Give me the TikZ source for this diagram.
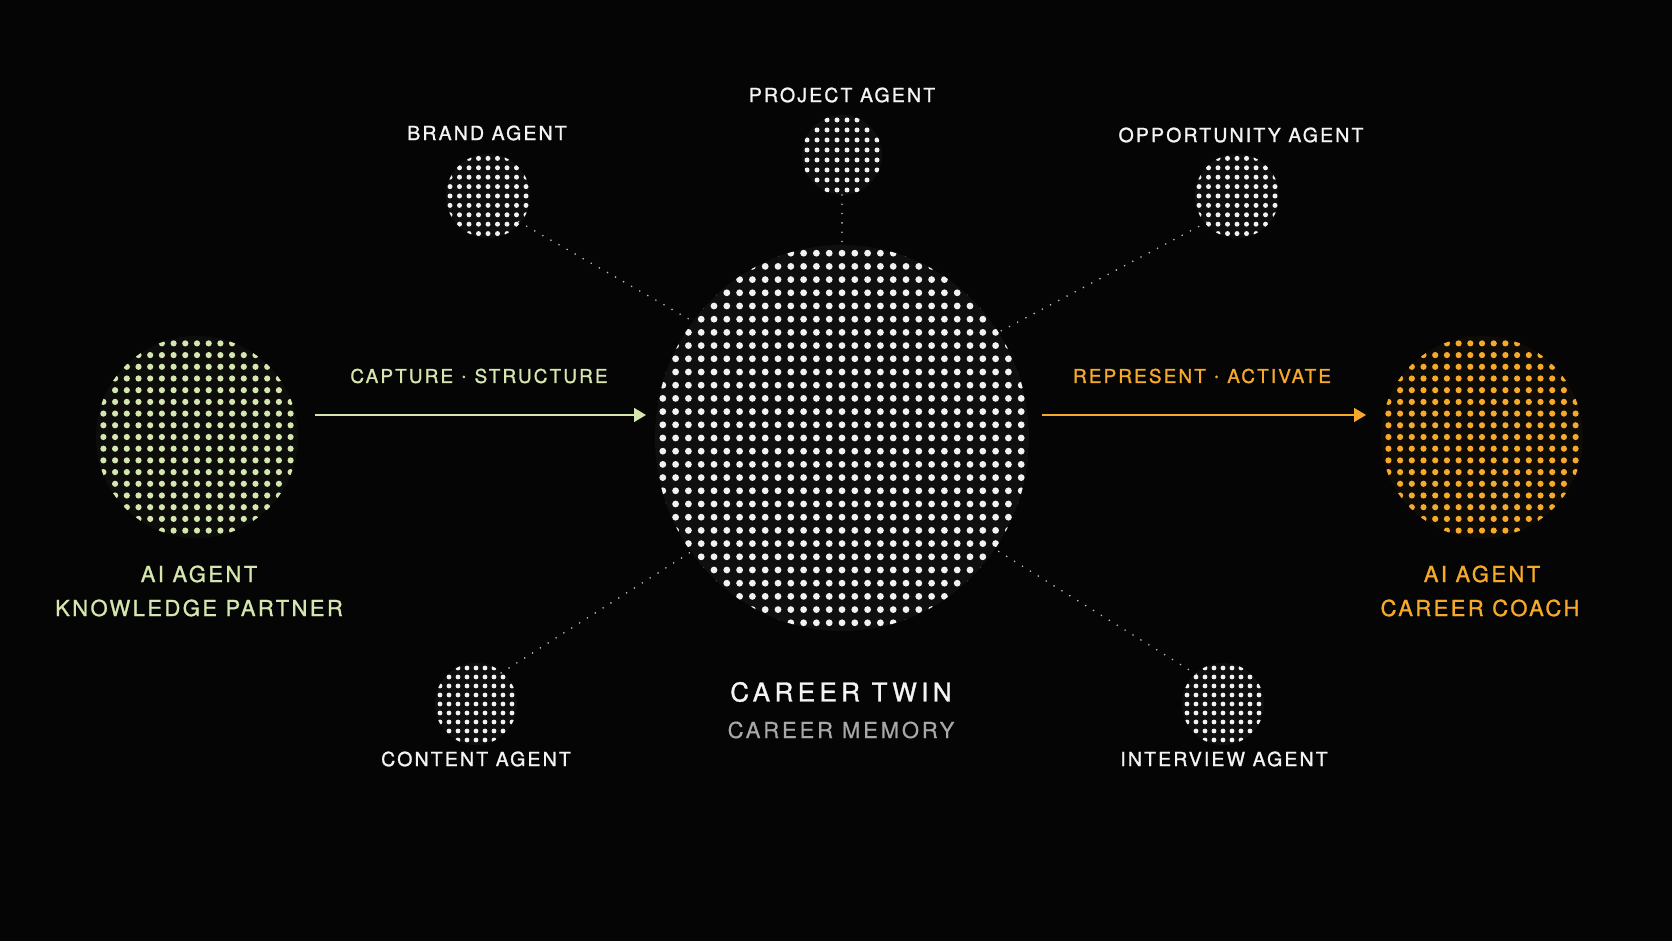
\documentclass[tikz,border=0pt]{standalone}
\usepackage{fontspec}
\setmainfont{TeX Gyre Heros}
\newfontfamily\labfont{TeX Gyre Heros}[LetterSpace=11, FakeBold=1.2]
\newfontfamily\bigfont{TeX Gyre Heros}[LetterSpace=11, FakeBold=1.2]
\newfontfamily\titlefont{TeX Gyre Heros}[LetterSpace=17, FakeBold=1.2]
\newfontfamily\subfont{TeX Gyre Heros}[LetterSpace=13, FakeBold=0.6]
\usetikzlibrary{arrows.meta}
\definecolor{bg}{HTML}{050505}
\definecolor{txtwhite}{HTML}{F4F4F4}
\definecolor{dotwhite}{HTML}{F2F2F2}
\definecolor{memgray}{HTML}{A8A8A8}
\definecolor{linkgray}{HTML}{BDBDBD}
\definecolor{kpgreen}{HTML}{D5E6AE}
\definecolor{ccorange}{HTML}{F7A929}
% cx, cy, rx, ry, n, sx, sy, dot radius, colour
\newcommand{\dotgrid}[9]{%
  \begin{scope}
    \clip (#1,#2) ellipse [x radius=#3, y radius=#4];
    \fill[#9!4!bg] (#1,#2) ellipse [x radius=#3, y radius=#4];
    \pgfmathsetmacro\halfn{(#5-1)/2}
    \foreach \i in {1,...,#5}{
      \foreach \j in {1,...,#5}{
        \fill[#9] ({#1+(\i-1-\halfn)*#6},{#2+(\j-1-\halfn)*#7}) circle[radius=#8];
      }
    }
  \end{scope}}
\begin{document}
\begin{tikzpicture}[x=1pt,y=1pt,
  disc/.style={circle, inner sep=0pt, outer sep=0pt, draw=none},
  agentlab/.style={text=txtwhite, inner sep=0pt, font=\labfont\fontsize{19.5}{23}\selectfont},
  sidelab/.style={inner sep=0pt, font=\bigfont\fontsize{22}{26}\selectfont},
  flowlab/.style={inner sep=0pt, font=\labfont\fontsize{19}{23}\selectfont},
  link/.style={draw=linkgray, line width=1.8pt, line cap=round, dash pattern=on 0pt off 9.3pt},
  flow/.style={line width=1.6pt, -{Triangle[length=12pt,width=14pt]}}
]
\fill[bg] (0,0) rectangle (1672,941);
\useasboundingbox (0,0) rectangle (1672,941);

% dot discs
\dotgrid{842}{503}{187}{193}{29}{12.8}{13.2}{3.4}{dotwhite}
\dotgrid{197}{504}{101}{101}{17}{11.7}{11.7}{3.1}{kpgreen}
\dotgrid{1482}{504}{101}{101}{17}{11.7}{11.7}{3.1}{ccorange}
\dotgrid{488}{745}{42}{42}{9}{9.5}{9.4}{2.5}{dotwhite}
\dotgrid{842}{786}{40}{40}{8}{10}{10}{2.5}{dotwhite}
\dotgrid{1237}{745}{42}{42}{9}{9.5}{9.4}{2.5}{dotwhite}
\dotgrid{476}{237}{41}{41}{9}{9}{9}{2.4}{dotwhite}
\dotgrid{1223}{237}{41}{41}{9}{9}{9}{2.4}{dotwhite}

% nodes for the discs
\node[disc, minimum size=380pt] (twin) at (842,503) {};
\node[disc, minimum size=202pt] (kp) at (197,504) {};
\node[disc, minimum size=202pt] (cc) at (1482,504) {};
\node[disc, minimum size=80pt] (brand) at (488,745) {};
\node[disc, minimum size=80pt] (project) at (842,786) {};
\node[disc, minimum size=80pt] (opp) at (1237,745) {};
\node[disc, minimum size=80pt] (content) at (476,237) {};
\node[disc, minimum size=80pt] (interview) at (1223,237) {};

% labels
\node[agentlab] (projectlab) at (842,846) {PROJECT AGENT};
\node[agentlab] (brandlab) at (487,808) {BRAND AGENT};
\node[agentlab] (opplab) at (1241,806) {OPPORTUNITY AGENT};
\node[agentlab] (contentlab) at (476,182) {CONTENT AGENT};
\node[agentlab] (interviewlab) at (1224,182) {INTERVIEW AGENT};
\node[inner sep=0pt, text=txtwhite, font=\titlefont\fontsize{26}{30}\selectfont] (twinlab) at (841,249) {CAREER TWIN};
\node[inner sep=0pt, text=memgray, font=\subfont\fontsize{22}{26}\selectfont] (memlab) at (841,211) {CAREER MEMORY};
\node[flowlab, text=kpgreen] (caplab) at (479,565) {CAPTURE {\fontsize{24}{23}\selectfont·} STRUCTURE};
\node[flowlab, text=ccorange] (replab) at (1202,565) {REPRESENT {\fontsize{24}{23}\selectfont·} ACTIVATE};
\node[sidelab, text=kpgreen] (kplab1) at (199,367) {AI AGENT};
\node[sidelab, text=kpgreen] (kplab2) at (199,333) {KNOWLEDGE PARTNER};
\node[sidelab, text=ccorange] (cclab1) at (1482,367) {AI AGENT};
\node[sidelab, text=ccorange] (cclab2) at (1480,333) {CAREER COACH};

% dotted links
\draw[link] (brand.-40) -- (twin.142);
\draw[link] (project.south) -- (twin.north);
\draw[link] (opp.221) -- (twin.34);
\draw[link] (content.51) -- (twin.217);
\draw[link] (interview.132) -- (twin.-36);

% flow arrows
\draw[flow, draw=kpgreen, fill=kpgreen, shorten <=17pt, shorten >=6pt]
  ([yshift=22pt]kp.east) -- ([yshift=22pt]kp.east -| twin.west);
\draw[flow, draw=ccorange, fill=ccorange, shorten <=10pt, shorten >=15pt]
  ([yshift=23pt]twin.east) -- ([yshift=23pt]twin.east -| cc.west);
\end{tikzpicture}
\end{document}
